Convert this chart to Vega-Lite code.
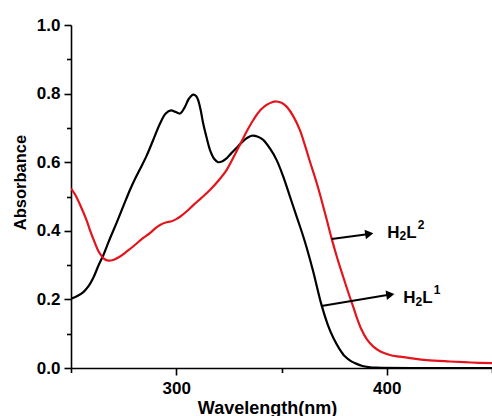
{
  "$schema": "https://vega.github.io/schema/vega-lite/v6.json",
  "width": 421,
  "height": 343,
  "autosize": {"type": "none"},
  "padding": {"left": 71, "top": 25, "right": 0, "bottom": 48},
  "background": "white",
  "config": {
    "view": {"stroke": null},
    "font": "Liberation Sans",
    "axis": {
      "grid": false,
      "domainColor": "black",
      "domainWidth": 1.6,
      "tickColor": "black",
      "tickWidth": 1.6,
      "labelFont": "Liberation Sans",
      "labelFontWeight": "bold",
      "labelFontSize": 17,
      "labelColor": "black",
      "titleFont": "Liberation Sans",
      "titleFontWeight": "bold",
      "titleColor": "black",
      "labelOverlap": false,
      "labelFlush": false
    }
  },
  "datasets": {
    "curves": [
      {"s": "H2L1", "wl": 250, "abs": 0.202},
      {"s": "H2L1", "wl": 253, "abs": 0.210},
      {"s": "H2L1", "wl": 256, "abs": 0.222},
      {"s": "H2L1", "wl": 258.5, "abs": 0.240},
      {"s": "H2L1", "wl": 260.6, "abs": 0.263},
      {"s": "H2L1", "wl": 263, "abs": 0.298},
      {"s": "H2L1", "wl": 265.3, "abs": 0.328},
      {"s": "H2L1", "wl": 268, "abs": 0.370},
      {"s": "H2L1", "wl": 271.7, "abs": 0.424},
      {"s": "H2L1", "wl": 275, "abs": 0.474},
      {"s": "H2L1", "wl": 278, "abs": 0.519},
      {"s": "H2L1", "wl": 280, "abs": 0.546},
      {"s": "H2L1", "wl": 282.8, "abs": 0.580},
      {"s": "H2L1", "wl": 286, "abs": 0.620},
      {"s": "H2L1", "wl": 289, "abs": 0.664},
      {"s": "H2L1", "wl": 292.3, "abs": 0.713},
      {"s": "H2L1", "wl": 295, "abs": 0.742},
      {"s": "H2L1", "wl": 297.5, "abs": 0.751},
      {"s": "H2L1", "wl": 299.5, "abs": 0.747},
      {"s": "H2L1", "wl": 301.8, "abs": 0.742},
      {"s": "H2L1", "wl": 304, "abs": 0.760},
      {"s": "H2L1", "wl": 306, "abs": 0.785},
      {"s": "H2L1", "wl": 308.1, "abs": 0.797},
      {"s": "H2L1", "wl": 309.5, "abs": 0.792},
      {"s": "H2L1", "wl": 310.4, "abs": 0.781},
      {"s": "H2L1", "wl": 311.5, "abs": 0.755},
      {"s": "H2L1", "wl": 312.8, "abs": 0.713},
      {"s": "H2L1", "wl": 314.5, "abs": 0.670},
      {"s": "H2L1", "wl": 316, "abs": 0.636},
      {"s": "H2L1", "wl": 318, "abs": 0.610},
      {"s": "H2L1", "wl": 319.9, "abs": 0.600},
      {"s": "H2L1", "wl": 322, "abs": 0.603},
      {"s": "H2L1", "wl": 323.9, "abs": 0.611},
      {"s": "H2L1", "wl": 326, "abs": 0.625},
      {"s": "H2L1", "wl": 328.7, "abs": 0.642},
      {"s": "H2L1", "wl": 331, "abs": 0.657},
      {"s": "H2L1", "wl": 333.5, "abs": 0.670},
      {"s": "H2L1", "wl": 335.8, "abs": 0.677},
      {"s": "H2L1", "wl": 338.5, "abs": 0.675},
      {"s": "H2L1", "wl": 341.3, "abs": 0.665},
      {"s": "H2L1", "wl": 344.5, "abs": 0.640},
      {"s": "H2L1", "wl": 347.7, "abs": 0.606},
      {"s": "H2L1", "wl": 351, "abs": 0.555},
      {"s": "H2L1", "wl": 354, "abs": 0.500},
      {"s": "H2L1", "wl": 357, "abs": 0.445},
      {"s": "H2L1", "wl": 360, "abs": 0.390},
      {"s": "H2L1", "wl": 362, "abs": 0.350},
      {"s": "H2L1", "wl": 365, "abs": 0.283},
      {"s": "H2L1", "wl": 369, "abs": 0.184},
      {"s": "H2L1", "wl": 372, "abs": 0.126},
      {"s": "H2L1", "wl": 374.6, "abs": 0.088},
      {"s": "H2L1", "wl": 377.5, "abs": 0.056},
      {"s": "H2L1", "wl": 380.1, "abs": 0.034},
      {"s": "H2L1", "wl": 383, "abs": 0.020},
      {"s": "H2L1", "wl": 385.7, "abs": 0.012},
      {"s": "H2L1", "wl": 388.5, "abs": 0.006},
      {"s": "H2L1", "wl": 391.2, "abs": 0.003},
      {"s": "H2L1", "wl": 395, "abs": 0.001},
      {"s": "H2L1", "wl": 420, "abs": 0.0},
      {"s": "H2L1", "wl": 450, "abs": 0.0},
      {"s": "H2L2", "wl": 250, "abs": 0.524},
      {"s": "H2L2", "wl": 252, "abs": 0.505},
      {"s": "H2L2", "wl": 254.3, "abs": 0.476},
      {"s": "H2L2", "wl": 257.5, "abs": 0.429},
      {"s": "H2L2", "wl": 259, "abs": 0.402},
      {"s": "H2L2", "wl": 261.4, "abs": 0.364},
      {"s": "H2L2", "wl": 263, "abs": 0.341},
      {"s": "H2L2", "wl": 264.6, "abs": 0.326},
      {"s": "H2L2", "wl": 266, "abs": 0.317},
      {"s": "H2L2", "wl": 267.7, "abs": 0.313},
      {"s": "H2L2", "wl": 270, "abs": 0.315},
      {"s": "H2L2", "wl": 273.3, "abs": 0.325},
      {"s": "H2L2", "wl": 277, "abs": 0.342},
      {"s": "H2L2", "wl": 281.2, "abs": 0.363},
      {"s": "H2L2", "wl": 284, "abs": 0.378},
      {"s": "H2L2", "wl": 287.5, "abs": 0.393},
      {"s": "H2L2", "wl": 290, "abs": 0.407},
      {"s": "H2L2", "wl": 292.3, "abs": 0.417},
      {"s": "H2L2", "wl": 295, "abs": 0.424},
      {"s": "H2L2", "wl": 297.8, "abs": 0.428},
      {"s": "H2L2", "wl": 300, "abs": 0.434},
      {"s": "H2L2", "wl": 301.8, "abs": 0.441},
      {"s": "H2L2", "wl": 305, "abs": 0.457},
      {"s": "H2L2", "wl": 308.1, "abs": 0.475},
      {"s": "H2L2", "wl": 312, "abs": 0.496},
      {"s": "H2L2", "wl": 316, "abs": 0.519},
      {"s": "H2L2", "wl": 320, "abs": 0.546},
      {"s": "H2L2", "wl": 323.9, "abs": 0.577},
      {"s": "H2L2", "wl": 327, "abs": 0.612},
      {"s": "H2L2", "wl": 330.2, "abs": 0.650},
      {"s": "H2L2", "wl": 333.5, "abs": 0.690},
      {"s": "H2L2", "wl": 336.6, "abs": 0.723},
      {"s": "H2L2", "wl": 340, "abs": 0.752},
      {"s": "H2L2", "wl": 342.9, "abs": 0.767},
      {"s": "H2L2", "wl": 345.5, "abs": 0.775},
      {"s": "H2L2", "wl": 347.7, "abs": 0.777},
      {"s": "H2L2", "wl": 350, "abs": 0.773},
      {"s": "H2L2", "wl": 352.4, "abs": 0.762},
      {"s": "H2L2", "wl": 355.5, "abs": 0.735},
      {"s": "H2L2", "wl": 358.7, "abs": 0.694},
      {"s": "H2L2", "wl": 361, "abs": 0.652},
      {"s": "H2L2", "wl": 363.5, "abs": 0.602},
      {"s": "H2L2", "wl": 366.7, "abs": 0.540},
      {"s": "H2L2", "wl": 369, "abs": 0.490},
      {"s": "H2L2", "wl": 371.5, "abs": 0.432},
      {"s": "H2L2", "wl": 373.8, "abs": 0.378},
      {"s": "H2L2", "wl": 376.5, "abs": 0.320},
      {"s": "H2L2", "wl": 379.3, "abs": 0.266},
      {"s": "H2L2", "wl": 382, "abs": 0.215},
      {"s": "H2L2", "wl": 384.1, "abs": 0.178},
      {"s": "H2L2", "wl": 386, "abs": 0.143},
      {"s": "H2L2", "wl": 388, "abs": 0.112},
      {"s": "H2L2", "wl": 390.5, "abs": 0.084},
      {"s": "H2L2", "wl": 393.5, "abs": 0.063},
      {"s": "H2L2", "wl": 397, "abs": 0.048},
      {"s": "H2L2", "wl": 401.5, "abs": 0.038},
      {"s": "H2L2", "wl": 406.2, "abs": 0.033},
      {"s": "H2L2", "wl": 412, "abs": 0.028},
      {"s": "H2L2", "wl": 419, "abs": 0.023},
      {"s": "H2L2", "wl": 430, "abs": 0.019},
      {"s": "H2L2", "wl": 440, "abs": 0.016},
      {"s": "H2L2", "wl": 450, "abs": 0.014}
    ],
    "arrows": [
      {"s": "H2L2", "wl": 373.8, "abs": 0.376, "wl2": 391.7, "abs2": 0.391},
      {"s": "H2L1", "wl": 369.0, "abs": 0.181, "wl2": 401.7, "abs2": 0.214}
    ],
    "labels": [
      {"s": "H2L2", "wl": 400.2, "abs": 0.380, "a": "H", "b": "2", "c": "L", "d": "2"},
      {"s": "H2L1", "wl": 407.8, "abs": 0.190, "a": "H", "b": "2", "c": "L", "d": "1"}
    ]
  },
  "encoding": {
    "x": {
      "field": "wl", "type": "quantitative",
      "scale": {"domain": [250, 450], "nice": false, "zero": false},
      "axis": {
        "title": "Wavelength(nm)",
        "titleFontSize": 18,
        "titleAlign": "center",
        "titleBaseline": "alphabetic",
        "titleX": 196,
        "titleY": 45,
        "values": [250, 300, 350, 400, 450],
        "labelExpr": "datum.value % 100 == 0 ? datum.label : ''",
        "tickSize": {"condition": {"test": "datum.value % 100 == 0", "value": 7}, "value": 4.5},
        "labelPadding": 5
      }
    },
    "y": {
      "field": "abs", "type": "quantitative",
      "scale": {"domain": [0, 1], "nice": false},
      "axis": {
        "title": "Absorbance",
        "titleFontSize": 16.5,
        "titleAngle": 270,
        "titleAlign": "center",
        "titleBaseline": "alphabetic",
        "titleX": -46,
        "titleY": 157,
        "values": [0, 0.1, 0.2, 0.3, 0.4, 0.5, 0.6, 0.7, 0.8, 0.9, 1.0],
        "labelExpr": "round(datum.value * 10) % 2 == 0 ? format(datum.value, '.1f') : ''",
        "tickSize": {"condition": {"test": "round(datum.value * 10) % 2 == 0", "value": 7}, "value": 4.5},
        "labelPadding": 4
      }
    }
  },
  "layer": [
    {
      "data": {"name": "curves"},
      "mark": {"type": "line", "interpolate": "catmull-rom", "strokeWidth": 2.2, "clip": true},
      "encoding": {
        "detail": {"field": "s"},
        "color": {
          "field": "s", "type": "nominal",
          "scale": {"domain": ["H2L1", "H2L2"], "range": ["#000000", "#e3141b"]},
          "legend": null
        }
      }
    },
    {
      "data": {"name": "arrows"},
      "mark": {"type": "rule", "color": "black", "strokeWidth": 2},
      "encoding": {
        "x2": {"field": "wl2"},
        "y2": {"field": "abs2"}
      }
    },
    {
      "data": {"name": "arrows"},
      "mark": {"type": "point", "shape": "triangle-right", "filled": true, "color": "black", "size": 90, "angle": 351.5, "opacity": 1},
      "encoding": {
        "x": {"field": "wl2", "type": "quantitative"},
        "y": {"field": "abs2", "type": "quantitative"}
      }
    },
    {
      "data": {"name": "labels"},
      "mark": {"type": "text", "align": "left", "baseline": "alphabetic", "fontSize": 17, "fontWeight": "bold", "font": "Liberation Sans", "color": "black"},
      "encoding": {"text": {"field": "a"}}
    },
    {
      "data": {"name": "labels"},
      "mark": {"type": "text", "align": "left", "baseline": "alphabetic", "fontSize": 12, "fontWeight": "bold", "font": "Liberation Sans", "color": "black", "dx": 12.3, "dy": 2.8},
      "encoding": {"text": {"field": "b"}}
    },
    {
      "data": {"name": "labels"},
      "mark": {"type": "text", "align": "left", "baseline": "alphabetic", "fontSize": 17, "fontWeight": "bold", "font": "Liberation Sans", "color": "black", "dx": 19},
      "encoding": {"text": {"field": "c"}}
    },
    {
      "data": {"name": "labels"},
      "mark": {"type": "text", "align": "left", "baseline": "alphabetic", "fontSize": 12, "fontWeight": "bold", "font": "Liberation Sans", "color": "black", "dx": 30.5, "dy": -8.6},
      "encoding": {"text": {"field": "d"}}
    }
  ]
}
